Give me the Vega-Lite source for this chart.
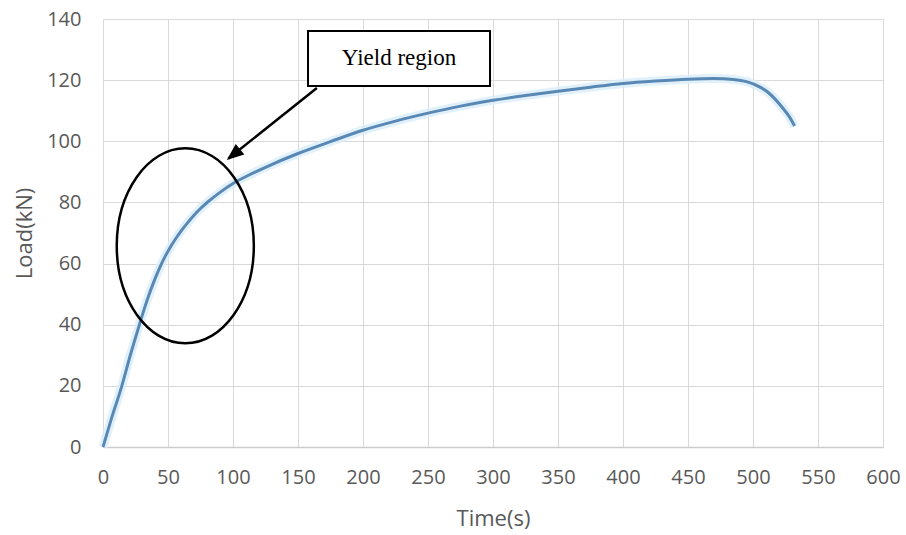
{
  "$schema": "https://vega.github.io/schema/vega-lite/v6.json",
  "width": 780,
  "height": 428,
  "autosize": {"type": "none"},
  "padding": {"left": 103, "top": 19, "right": 23, "bottom": 88},
  "background": "white",
  "config": {
    "view": {"stroke": null},
    "axisX": {
      "tickCount": 12,
      "grid": true, "gridColor": "#d9d9d9", "gridWidth": 1,
      "domain": true, "domainColor": "#cccccc", "domainWidth": 1.5,
      "ticks": false, "labelFlush": false, "labelOverlap": false,
      "labelFont": "Open Sans", "labelFontSize": 20, "labelColor": "#595959",
      "labelPadding": 20,
      "titleFont": "Open Sans", "titleFontSize": 22, "titleFontWeight": "normal", "titleColor": "#595959",
      "titleX": 390, "titleY": 71, "titleBaseline": "middle", "titleAlign": "center"
    },
    "axisY": {
      "tickCount": 7,
      "grid": true, "gridColor": "#d9d9d9", "gridWidth": 1,
      "domain": false, "ticks": false, "labelFlush": false, "labelOverlap": false,
      "labelFont": "Open Sans", "labelFontSize": 20, "labelColor": "#595959",
      "labelPadding": 22,
      "titleFont": "Open Sans", "titleFontSize": 22, "titleFontWeight": "normal", "titleColor": "#595959",
      "titleX": -79, "titleY": 214, "titleBaseline": "middle", "titleAlign": "center", "titleAngle": -90
    }
  },
  "datasets": {
    "curve": [
      {"t": 0, "L": 0}, {"t": 7, "L": 10}, {"t": 14.5, "L": 20}, {"t": 21, "L": 30},
      {"t": 28, "L": 40}, {"t": 32, "L": 45.5}, {"t": 36, "L": 50.5}, {"t": 40, "L": 55},
      {"t": 44, "L": 59}, {"t": 48, "L": 62.5}, {"t": 52, "L": 65.5}, {"t": 56, "L": 68.2},
      {"t": 60, "L": 70.6}, {"t": 65, "L": 73.3}, {"t": 70, "L": 75.8}, {"t": 75, "L": 78},
      {"t": 81, "L": 80.3}, {"t": 90, "L": 83.3}, {"t": 100, "L": 86.2}, {"t": 112, "L": 88.9},
      {"t": 125, "L": 91.5}, {"t": 150, "L": 96}, {"t": 175, "L": 99.9}, {"t": 200, "L": 103.6},
      {"t": 225, "L": 106.6}, {"t": 250, "L": 109.2}, {"t": 275, "L": 111.5}, {"t": 300, "L": 113.4},
      {"t": 325, "L": 115}, {"t": 350, "L": 116.4}, {"t": 375, "L": 117.7}, {"t": 400, "L": 118.9},
      {"t": 425, "L": 119.7}, {"t": 450, "L": 120.3}, {"t": 470, "L": 120.5}, {"t": 485, "L": 120.2},
      {"t": 495, "L": 119.5}, {"t": 505, "L": 117.8}, {"t": 511, "L": 116.2}, {"t": 517, "L": 113.8},
      {"t": 523, "L": 110.8}, {"t": 528, "L": 108}, {"t": 532, "L": 105}
    ],
    "ellipse": [{"t": 63.3, "L": 65.8}],
    "arrow": [{"t": 164.5, "L": 117.4, "t2": 96.5, "L2": 94.4, "tipT": 95.2, "tipL": 93.9}],
    "box": [{"t": 157.7, "t2": 297.7, "L": 136.1, "L2": 118.1, "tc": 227.7, "Lc": 127.1, "label": "Yield region"}]
  },
  "layer": [
    {
      "data": {"name": "curve"},
      "mark": {"type": "line", "stroke": "#d9edfa", "strokeWidth": 9, "opacity": 0.8, "interpolate": "monotone"},
      "encoding": {
        "x": {"field": "t", "type": "quantitative", "title": "Time(s)", "scale": {"domain": [0, 600], "nice": false}},
        "y": {"field": "L", "type": "quantitative", "title": "Load(kN)", "scale": {"domain": [0, 140], "nice": false}}
      }
    },
    {
      "data": {"name": "curve"},
      "mark": {"type": "line", "stroke": "#5a88b5", "strokeWidth": 3, "interpolate": "monotone"},
      "encoding": {
        "x": {"field": "t", "type": "quantitative", "title": "Time(s)"},
        "y": {"field": "L", "type": "quantitative", "title": "Load(kN)"}
      }
    },
    {
      "data": {"name": "ellipse"},
      "mark": {
        "type": "point", "filled": false, "stroke": "black", "strokeWidth": 2.5, "opacity": 1,
        "size": 38025,
        "shape": "M 0.703 0 C 0.703 0.552 0.388 1 0 1 C -0.388 1 -0.703 0.552 -0.703 0 C -0.703 -0.552 -0.388 -1 0 -1 C 0.388 -1 0.703 -0.552 0.703 0 Z"
      },
      "encoding": {
        "x": {"field": "t", "type": "quantitative", "title": "Time(s)"},
        "y": {"field": "L", "type": "quantitative", "title": "Load(kN)"}
      }
    },
    {
      "data": {"name": "arrow"},
      "mark": {"type": "rule", "stroke": "black", "strokeWidth": 2.5},
      "encoding": {
        "x": {"field": "t", "type": "quantitative", "title": "Time(s)"},
        "y": {"field": "L", "type": "quantitative", "title": "Load(kN)"},
        "x2": {"field": "t2"},
        "y2": {"field": "L2"}
      }
    },
    {
      "data": {"name": "arrow"},
      "mark": {
        "type": "point", "filled": true, "fill": "black", "stroke": null, "opacity": 1,
        "size": 514, "angle": 231.3,
        "shape": "M 0 0 L -0.6 1.5 L 0.6 1.5 Z"
      },
      "encoding": {
        "x": {"field": "tipT", "type": "quantitative", "title": "Time(s)"},
        "y": {"field": "tipL", "type": "quantitative", "title": "Load(kN)"}
      }
    },
    {
      "data": {"name": "box"},
      "mark": {"type": "rect", "fill": "white", "stroke": "black", "strokeWidth": 2},
      "encoding": {
        "x": {"field": "t", "type": "quantitative", "title": "Time(s)"},
        "x2": {"field": "t2"},
        "y": {"field": "L", "type": "quantitative", "title": "Load(kN)"},
        "y2": {"field": "L2"}
      }
    },
    {
      "data": {"name": "box"},
      "mark": {"type": "text", "font": "Liberation Serif", "fontSize": 23, "color": "black", "align": "center", "baseline": "middle"},
      "encoding": {
        "x": {"field": "tc", "type": "quantitative", "title": "Time(s)"},
        "y": {"field": "Lc", "type": "quantitative", "title": "Load(kN)"},
        "text": {"field": "label"}
      }
    }
  ]
}
